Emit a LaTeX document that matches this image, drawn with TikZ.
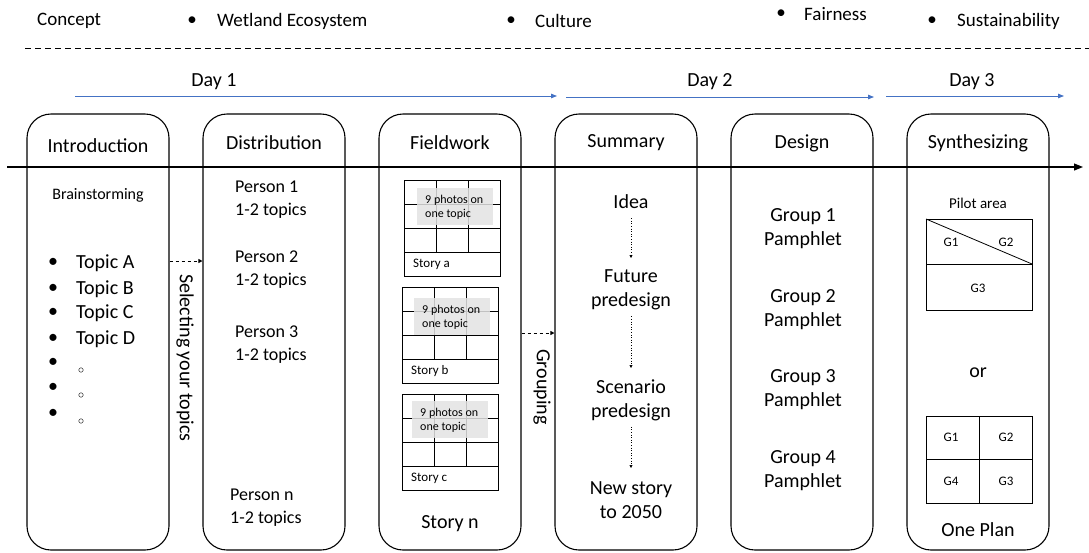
\documentclass[tikz,border=0pt]{standalone}
\usepackage{fontspec}
\setmainfont{Carlito}
\usetikzlibrary{arrows.meta, positioning}
\definecolor{dayblue}{HTML}{4472C4}
\definecolor{photogray}{HTML}{E3E3E3}

\begin{document}
\begin{tikzpicture}[x=1pt,y=-1pt]
\tikzset{every node/.style={inner sep=0pt, font=\fontsize{20}{24}\selectfont},
  col/.style={draw, line width=1.1pt, rounded corners=24pt, minimum width=142pt, minimum height=436pt},
  head/.style={font=\fontsize{19}{23}\selectfont},
  person/.style={font=\fontsize{18}{23}\selectfont, align=left, right},
  small/.style={font=\fontsize{12}{14}\selectfont},
  cell/.style={line width=0.8pt},
  dayarrow/.style={dayblue, line width=0.8pt, -{Triangle[length=6pt,width=4.5pt]}},
  link/.style={dashed, line width=0.8pt, -{Triangle[length=4pt,width=4pt]}},
  step arrow/.style={dotted, line width=0.6pt, -{Triangle[length=3pt,width=3pt]}}}
\useasboundingbox (0,0) rectangle (1089,552);

% concepts
\node[head, right] (concept) at (37,21) {Concept};
\node[head] (dot1) at (192,21) {•};
\node[head, right] (wetland) at (217,21) {Wetland Ecosystem};
\node[head] (dot2) at (511,21) {•};
\node[head, right] (culture) at (535,21) {Culture};
\node[head] (dot3) at (781,14) {•};
\node[head, right] (fair) at (804,14) {Fairness};
\node[head] (dot4) at (932,21) {•};
\node[head, right] (sust) at (957,21) {Sustainability};
\draw[line width=0.8pt, dash pattern=on 6pt off 4pt] (25,48) -- (1089,48);

% days
\node (day1) at (214,82) {Day 1};
\node (day2) at (710,82) {Day 2};
\node (day3) at (972,82) {Day 3};
\coordinate (d1s) at (75,96);  \coordinate (d1e) at (557,96);
\coordinate (d2s) at (566,97); \coordinate (d2e) at (874,97);
\coordinate (d3s) at (886,96); \coordinate (d3e) at (1064,96);
\draw[dayarrow] (d1s) -- (d1e);
\draw[dayarrow] (d2s) -- (d2e);
\draw[dayarrow] (d3s) -- (d3e);

% time axis
\coordinate (ax0) at (7,167);
\coordinate (ax1) at (1083,167);
\draw[line width=1.1pt, -{Triangle[length=9pt,width=7pt]}] (ax0) -- (ax1);

% columns
\node[col] (intro) at (98,332) {};
\node[col] (distr) at (274,332) {};
\node[col] (field) at (450,332) {};
\node[col] (summ) at (626,332) {};
\node[col] (design) at (802,332) {};
\node[col] (synth) at (978,332) {};
\node (introT) at (98,146) {Introduction};
\node (distrT) at (274,143) {Distribution};
\node (fieldT) at (450,143) {Fieldwork};
\node (summT) at (626,143) {Summary};
\node (designT) at (802,143) {Design};
\node (synthT) at (978,143) {Synthesizing};

% introduction
\node[font=\fontsize{16}{19}\selectfont] (brain) at (98,195) {Brainstorming};
\foreach \t/\y in {A/263,B/289,C/313,D/339} {
  \node (b\t) at (53,\y) {•};
  \node[right] (topic\t) at (76,\y) {Topic \t};
}
\foreach \i/\y in {1/363,2/388,3/414} {
  \node (e\i) at (53,\y) {•};
  \node[draw, circle, line width=0.4pt, minimum size=4.5pt] (o\i) at (81,\y+7) {};
}

% distribution
\node[person] (p1) at (235,200) {Person 1\\1-2 topics};
\node[person] (p2) at (235,270) {Person 2\\1-2 topics};
\node[person] (p3) at (235,345) {Person 3\\1-2 topics};
\node[person] (pn) at (230,508) {Person n\\1-2 topics};
\coordinate (sel) at (0,261);
\draw[link] (intro.east |- sel) -- (distr.west |- sel);
\node[rotate=-90] (selT) at (185,358) {Selecting your topics};

% fieldwork
\foreach \s/\x/\y/\gx/\gy in {a/404/180/417/188, b/402/287/414/298, c/402/394/412/401} {
  \draw[cell] (\x,\y) rectangle ++(96,96);
  \foreach \i in {1,2,3} \draw[cell] (\x,\y+24*\i) -- ++(96,0);
  \foreach \j in {1,2} \draw[cell] (\x+32*\j,\y) -- ++(0,72);
  \fill[photogray, fill opacity=0.85] (\gx,\gy) rectangle ++(76,37);
  \node[small, align=left, right] (photo\s) at (\gx+8,\gy+19) {9 photos on\\one topic};
  \node[right, font=\fontsize{13}{15}\selectfont] (story\s) at (\x+9,\y+84) {Story \s};
}
\node (storyn) at (450,524) {Story n};
\coordinate (grp) at (0,333);
\draw[link] (field.east |- grp) -- (summ.west |- grp);
\node[rotate=-90] (grpT) at (542,387) {Grouping};

% summary
\node (idea) at (631,202) {Idea};
\node[align=center] (future) at (631,290) {Future\\predesign};
\node[align=center] (scen) at (631,400) {Scenario\\predesign};
\node[align=center] (newst) at (631,500) {New story\\to 2050};
\draw[step arrow] (idea.south) ++(0,9) -- (631,258);
\draw[step arrow] (future.south) ++(0,6) -- (631,368);
\draw[step arrow] (scen.south) ++(0,6) -- (631,468);

% design
\node[align=center] (g1) at (803,229) {Group 1\\Pamphlet};
\node[align=center] (g2) at (803,310) {Group 2\\Pamphlet};
\node[align=center] (g3) at (803,390) {Group 3\\Pamphlet};
\node[align=center] (g4) at (803,471) {Group 4\\Pamphlet};

% synthesizing
\node[font=\fontsize{15}{18}\selectfont] (pilot) at (978,203) {Pilot area};
\draw[cell] (926,219) rectangle (1032,310);
\draw[cell] (926,264) -- (1032,264);
\draw[cell] (926,219) -- (1032,264);
\node[font=\fontsize{13}{15}\selectfont] (a1) at (951,242) {G1};
\node[font=\fontsize{13}{15}\selectfont] (a2) at (1006,242) {G2};
\node[font=\fontsize{13}{15}\selectfont] (a3) at (978,288) {G3};
\node (or) at (978,373) {or};
\draw[cell] (926,416) rectangle (1032,503);
\draw[cell] (979,416) -- (979,503);
\draw[cell] (926,459) -- (1032,459);
\node[font=\fontsize{13}{15}\selectfont] (q1) at (951,437) {G1};
\node[font=\fontsize{13}{15}\selectfont] (q2) at (1006,437) {G2};
\node[font=\fontsize{13}{15}\selectfont] (q4) at (951,481) {G4};
\node[font=\fontsize{13}{15}\selectfont] (q3) at (1006,481) {G3};
\node (plan) at (978,530) {One Plan};
\end{tikzpicture}
\end{document}
